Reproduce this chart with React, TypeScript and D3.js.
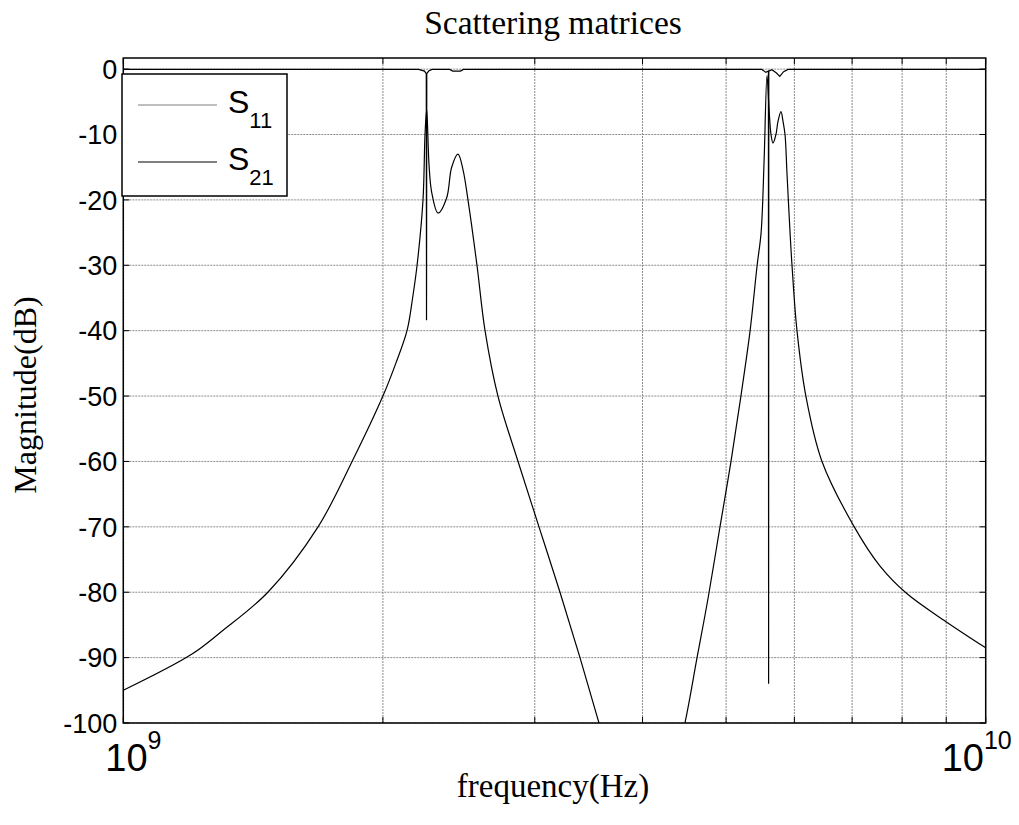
import React from 'react';
import * as d3 from 'd3';

// ---- data (frequency in GHz, magnitude in dB) ----
const s21Freq = [1.0, 1.2, 1.3, 1.471, 1.682, 1.842, 2.0, 2.07, 2.133, 2.165, 2.191, 2.226, 2.238, 2.248, 2.262, 2.278, 2.317, 2.371, 2.403, 2.444, 2.477, 2.51, 2.571, 2.627, 2.719, 2.869, 3.034, 3.209, 3.385, 3.561, 3.75, 4.3, 4.48, 4.627, 4.764, 4.919, 5.066, 5.202, 5.331, 5.432, 5.49, 5.534, 5.577, 5.607, 5.637, 5.667, 5.712, 5.743, 5.789, 5.821, 5.852, 5.883, 5.931, 5.962, 6.042, 6.187, 6.459, 7.04, 7.542, 8.1, 8.995, 10.0];
const s21Db = [-95, -89.5, -86, -80, -70, -60, -50, -45, -40, -35, -30, -20, -10, -6.2, -14.6, -18.8, -22, -19.7, -15, -13, -15.4, -20, -30, -40, -50, -60, -70, -80, -90, -100, -110, -110, -100, -90, -81, -70, -60, -50, -40, -30, -25, -14, -1, -6, -10, -11.3, -10, -8, -6.5, -8, -10, -16, -25, -30, -40, -50, -60, -70, -76, -80.2, -84.5, -88.5];

const s11Freq = [1.0, 2.2, 2.235, 2.2455, 2.247, 2.2485, 2.26, 2.28, 2.39, 2.41, 2.46, 2.48, 5.5, 5.56, 5.598, 5.601, 5.604, 5.65, 5.72, 5.77, 5.83, 5.9, 10.0];
const s11Db = [-0.05, -0.05, -0.3, -0.7, -38.4, -0.7, -0.3, -0.05, -0.05, -0.3, -0.3, -0.05, -0.05, -0.5, -0.3, -94, -0.3, -0.1, -0.6, -1.1, -0.4, -0.05, -0.05];

const yTicks = [0, -10, -20, -30, -40, -50, -60, -70, -80, -90, -100];
const yTickLabels = ['0', '-10', '-20', '-30', '-40', '-50', '-60', '-70', '-80', '-90', '-100'];
const xMajorTicks = [1e9, 1e10];
const xMajorExponents = ['9', '10'];
const xMinorTicks = [2e9, 3e9, 4e9, 5e9, 6e9, 7e9, 8e9, 9e9];
const seriesNames = ['11', '21'];
const seriesColors = ['#808080', '#000000'];

const W = 1019;
const H = 825;
const L = 123.3;
const R = 985.7;
const T = 58;
const B = 723;

export default function App() {
  const x = d3.scaleLog().domain([1e9, 1e10]).range([L, R]);
  const y = d3.scaleLinear().domain([-100, 1.7]).range([B, T]);

  const s21 = s21Freq.map((f, i) => [f * 1e9, s21Db[i]] as [number, number]);
  const s11 = s11Freq.map((f, i) => [f * 1e9, s11Db[i]] as [number, number]);
  const lineSmooth = d3.line<[number, number]>().x(d => x(d[0])).y(d => y(d[1])).curve(d3.curveCatmullRom.alpha(0.5));
  const line = d3.line<[number, number]>().x(d => x(d[0])).y(d => y(d[1]));

  const allX = [...xMajorTicks, ...xMinorTicks];
  const tickLen = 6;

  return (
    <svg width={W} height={H} style={{ position: 'absolute', left: 0, top: 0, background: '#fff' }}>
      <defs>
        <clipPath id="plotclip">
          <rect x={L} y={T} width={R - L} height={B - T} />
        </clipPath>
      </defs>
      <rect x={0} y={0} width={W} height={H} fill="#fff" />
      {/* grid */}
      <g stroke="#8c8c8c" strokeWidth={1} strokeDasharray="2,1">
        {yTicks.map(t => (
          <line key={'gy' + t} x1={L} x2={R} y1={y(t)} y2={y(t)} />
        ))}
        {allX.map(t => (
          <line key={'gx' + t} x1={x(t)} x2={x(t)} y1={T} y2={B} />
        ))}
      </g>
      {/* curves */}
      <g clipPath="url(#plotclip)" fill="none" strokeWidth={1.2}>
        <path d={lineSmooth(s21) || ''} stroke="#000" />
        <path d={line(s11) || ''} stroke="#000" />
      </g>
      {/* ticks */}
      <g stroke="#000" strokeWidth={1}>
        {yTicks.map(t => (
          <g key={'ty' + t}>
            <line x1={L} x2={L + tickLen} y1={y(t)} y2={y(t)} />
            <line x1={R} x2={R - tickLen} y1={y(t)} y2={y(t)} />
          </g>
        ))}
        {allX.map(t => (
          <g key={'tx' + t}>
            <line x1={x(t)} x2={x(t)} y1={B} y2={B - tickLen} />
            <line x1={x(t)} x2={x(t)} y1={T} y2={T + tickLen} />
          </g>
        ))}
      </g>
      {/* axes box */}
      <rect x={L} y={T} width={R - L} height={B - T} fill="none" stroke="#000" strokeWidth={1.5} />
      {/* y tick labels */}
      <g fontFamily="Liberation Sans, Arial, sans-serif" fontSize={27} textAnchor="end">
        {yTicks.map((t, i) => (
          <text key={'ly' + t} x={L - 6} y={y(t)} dy="0.36em">{yTickLabels[i]}</text>
        ))}
      </g>
      {/* x tick labels */}
      <g fontFamily="Liberation Sans, Arial, sans-serif">
        {xMajorTicks.map((t, i) => (
          <text key={'lx' + t} x={x(t) + (i === 0 ? -18 : -44)} y={771} fontSize={38}>
            10<tspan dy={-22} fontSize={25}>{xMajorExponents[i]}</tspan>
          </text>
        ))}
      </g>
      {/* title & labels */}
      <text x={553} y={34} textAnchor="middle" fontFamily="Liberation Serif, Times New Roman, serif" fontSize={33.5}>Scattering matrices</text>
      <text x={553} y={797} textAnchor="middle" fontFamily="Liberation Serif, Times New Roman, serif" fontSize={33}>frequency(Hz)</text>
      <text transform={`translate(36, ${395}) rotate(-90)`} textAnchor="middle" fontFamily="Liberation Serif, Times New Roman, serif" fontSize={32}>Magnitude(dB)</text>
      {/* legend */}
      <g>
        <rect x={122} y={74} width={165} height={122} fill="#fff" stroke="#000" strokeWidth={1.5} />
        {seriesNames.map((n, i) => (
          <g key={'lg' + n}>
            <line x1={138} x2={217} y1={105 + i * 57} y2={105 + i * 57} stroke={seriesColors[i]} strokeWidth={1.2} />
            <text x={228} y={113 + i * 57} fontFamily="Liberation Sans, Arial, sans-serif" fontSize={32}>
              S<tspan dy={15} fontSize={22}>{n}</tspan>
            </text>
          </g>
        ))}
      </g>
    </svg>
  );
}
